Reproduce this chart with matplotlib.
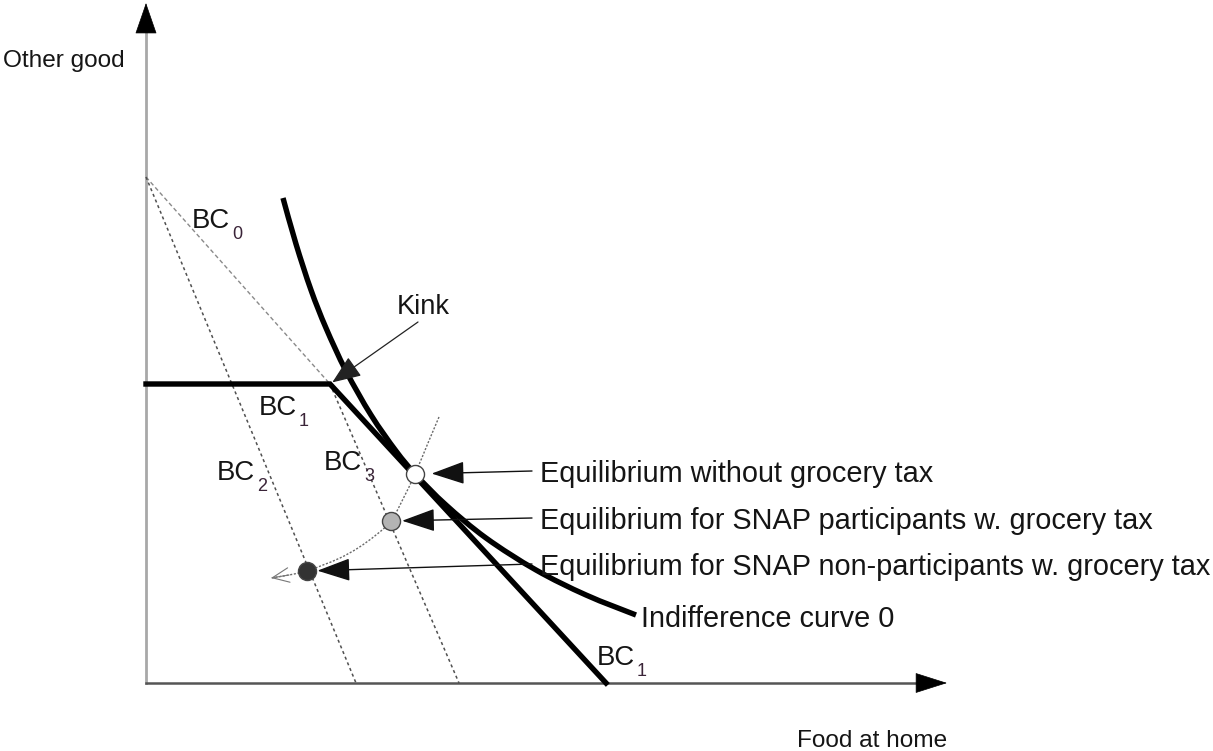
import matplotlib.pyplot as plt
from matplotlib.path import Path
from matplotlib.patches import PathPatch

plt.rcParams["font.family"] = ["Liberation Sans", "DejaVu Sans"]

# units: food at home (x) and other good (y), origin at the axes corner
AXIS_FOOD_END = 801
AXIS_OTHER_END = 680

# budget constraints
BC0_FOOD = [0, 184]
BC0_OTHER = [506, 299]
BC1_FOOD = [0, 184, 460]
BC1_OTHER = [299, 299, 0]
BC2_FOOD = [0, 210]
BC2_OTHER = [506, 0]
BC3_FOOD = [184, 313]
BC3_OTHER = [299, 0]

# indifference curve 0
IC_FOOD = [137, 150, 165, 180, 200, 225, 250, 270, 300, 340, 390, 440, 490]
IC_OTHER = [485, 439, 393, 355, 312, 268, 232, 208, 178, 145, 113, 88, 68]

# dotted path linking the three equilibria
PATH_FOOD = [293, 282, 269, 257, 245, 230, 212, 194, 177, 161, 143, 125]
PATH_OTHER = [266, 240, 209, 184, 162, 148, 135, 125, 118, 112, 108, 105]

EQ_FOOD = [269, 245, 161]
EQ_OTHER = [209, 162, 112]
EQ_FILLS = ["white", "#b4b4b4", "#333333"]
EQ_LABELS = [
    "Equilibrium without grocery tax",
    "Equilibrium for SNAP participants w. grocery tax",
    "Equilibrium for SNAP non-participants w. grocery tax",
]
EQ_LABEL_Y = [201, 154, 108]

KINK = (184, 299)

BC_LABELS = [
    # text, subscript, x, baseline
    ("BC", "0", 46, 455),
    ("BC", "1", 113, 268),
    ("BC", "2", 71, 203),
    ("BC", "3", 178, 213),
    ("BC", "1", 451, 18),
]

TEXT = "#151515"
SUB = "#3a2438"


def smooth_path(xs, ys):
    # catmull-rom through the read points, handed to matplotlib as cubic beziers
    pts = list(zip(xs, ys))
    verts = [pts[0]]
    codes = [Path.MOVETO]
    for i in range(len(pts) - 1):
        p0 = pts[max(i - 1, 0)]
        p1 = pts[i]
        p2 = pts[i + 1]
        p3 = pts[min(i + 2, len(pts) - 1)]
        c1 = (p1[0] + (p2[0] - p0[0]) / 6, p1[1] + (p2[1] - p0[1]) / 6)
        c2 = (p2[0] - (p3[0] - p1[0]) / 6, p2[1] - (p3[1] - p1[1]) / 6)
        verts += [c1, c2, p2]
        codes += [Path.CURVE4] * 3
    return Path(verts, codes)


def head(ax, tip, tail, style, color, lw=1.0, scale=20, shrink=0):
    ax.annotate("", xy=tip, xytext=tail,
                arrowprops=dict(arrowstyle=style, color=color, lw=lw,
                                shrinkA=0, shrinkB=shrink, mutation_scale=scale))


fig = plt.figure(figsize=(12.13, 7.51), dpi=100)
ax = fig.add_axes([0, 0, 1, 1])
ax.set_xlim(-146, 1067)
ax.set_ylim(-68, 683)
ax.axis("off")

# axes with filled heads
ax.plot([0, 0], [0, AXIS_OTHER_END - 29], color="#a8a8a8", lw=2.0)
ax.plot([0, AXIS_FOOD_END - 30], [0, 0], color="#555555", lw=1.8)
head(ax, (0, AXIS_OTHER_END), (0, AXIS_OTHER_END - 29),
     "-|>,head_length=1.04,head_width=0.36", "black", lw=0.5)
head(ax, (AXIS_FOOD_END, 0), (AXIS_FOOD_END - 30, 0),
     "-|>,head_length=1.07,head_width=0.34", "black", lw=0.5)

ax.text(-143, 616, "Other good", fontsize=17.6, color=TEXT, ha="left", va="baseline")
ax.text(651, -64, "Food at home", fontsize=17.6, color=TEXT, ha="left", va="baseline")

# budget lines
ax.plot(BC0_FOOD, BC0_OTHER, color="#8a8a8a", lw=1.0, ls=(0, (3, 2)))
ax.plot(BC2_FOOD, BC2_OTHER, color="#505050", lw=1.1, ls=(0, (2, 2)))
ax.plot(BC3_FOOD, BC3_OTHER, color="#505050", lw=1.1, ls=(0, (2, 2)))
ax.plot(BC1_FOOD, BC1_OTHER, color="black", lw=3.9, solid_joinstyle="miter")

# indifference curve
ax.add_patch(PathPatch(smooth_path(IC_FOOD, IC_OTHER), fill=False,
                       edgecolor="black", lw=3.9, capstyle="butt"))

# path between equilibria
ax.add_patch(PathPatch(smooth_path(PATH_FOOD, PATH_OTHER), fill=False,
                       edgecolor="#6a6a6a", lw=1.0, ls=(0, (1.5, 1.2))))
head(ax, (PATH_FOOD[-1], PATH_OTHER[-1]), (PATH_FOOD[-2], PATH_OTHER[-2]),
     "->,head_length=0.8,head_width=0.35", "#777777", lw=0.8, scale=15)

for fx, fy, fill in zip(EQ_FOOD, EQ_OTHER, EQ_FILLS):
    ax.plot(fx, fy, "o", ms=13, mfc=fill, mec="#444444", mew=1.0, zorder=5)

gaps = [12, 8, 7.5]
for fx, fy, label, ly, gap in zip(EQ_FOOD, EQ_OTHER, EQ_LABELS, EQ_LABEL_Y, gaps):
    ax.text(394, ly, label, fontsize=20.8, color=TEXT, ha="left", va="baseline")
    head(ax, (fx, fy), (386, ly + 11),
         "-|>,head_length=1.04,head_width=0.36", "#111111", lw=1.0, shrink=gap)

# kink
ax.text(251, 369, "Kink", fontsize=19.6, color=TEXT, ha="left", va="baseline")
head(ax, KINK, (272, 361), "-|>,head_length=0.9,head_width=0.36", "#222222",
     lw=0.9, shrink=2)

ax.text(495, 56, "Indifference curve 0", fontsize=20.8, color=TEXT,
        ha="left", va="baseline")

for txt, sub, x, y in BC_LABELS:
    ax.text(x, y, txt, fontsize=19.8, color=TEXT, ha="left", va="baseline")
    ax.text(x + 40, y - 11, sub, fontsize=13, color=SUB, ha="left", va="baseline")

fig.savefig("out.png", dpi=100)
